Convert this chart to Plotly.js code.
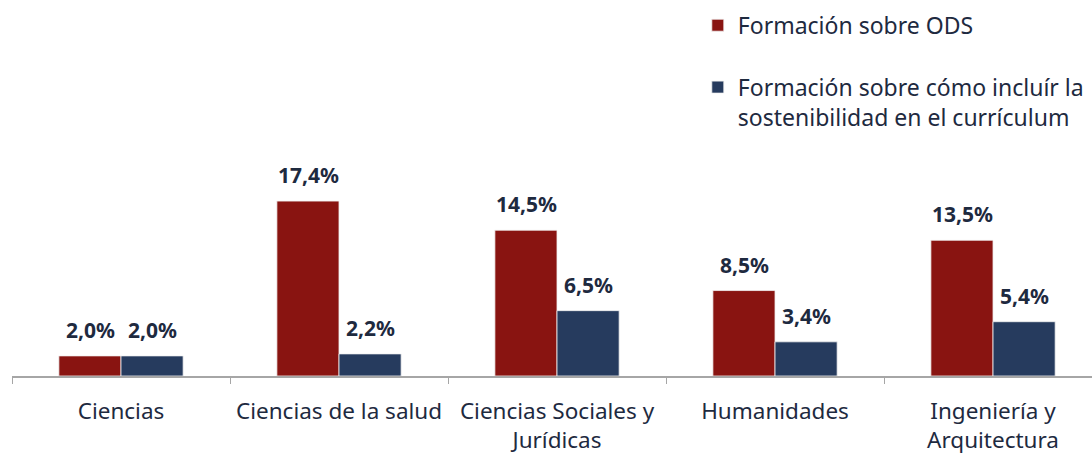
<!DOCTYPE html>
<html>
<head>
<meta charset="utf-8">
<script src="https://cdn.plot.ly/plotly-3.0.1.min.js"></script>
<style>html,body{margin:0;padding:0;background:#fff;}#chart{width:1092px;height:454px;}</style>
</head>
<body>
<div id="chart"></div>
<script>
const categories = ["Ciencias", "Ciencias de la salud", "Ciencias Sociales y<br>Jurídicas", "Humanidades", "Ingeniería y<br>Arquitectura"];
const seriesNames = ["Formación sobre ODS", "Formación sobre cómo incluír la<br>sostenibilidad en el currículum"];
const odsValues = [2.0, 17.4, 14.5, 8.5, 13.5];
const curriculumValues = [2.0, 2.2, 6.5, 3.4, 5.4];

const RED = "#891411";
const BLUE = "#263B5E";
const TEXT = "#1E2A3F";
const FONT = "'Noto Sans', sans-serif";

function fmt(v) { return v.toFixed(1).replace(".", ",") + "%"; }

const traces = [
  {type: "bar", name: seriesNames[0], x: categories, y: odsValues, legendgroup: "a",
   marker: {color: RED, line: {color: "#f2f2f2", width: 0.8}}, hoverinfo: "skip"},
  {type: "bar", name: seriesNames[1], x: categories, y: curriculumValues, legendgroup: "b",
   marker: {color: BLUE, line: {color: "#f2f2f2", width: 0.8}}, hoverinfo: "skip"}
];

const annotations = [];
[odsValues, curriculumValues].forEach((vals, s) => {
  vals.forEach((v, i) => {
    annotations.push({x: categories[i], y: v, xref: "x", yref: "y", text: fmt(v),
      showarrow: false, yanchor: "bottom", xshift: s === 0 ? -31 : 31, yshift: 10,
      font: {family: FONT, size: 21, color: TEXT, weight: "bold"}});
  });
});

const layout = {
  width: 1092, height: 454,
  margin: {l: 12, r: 0, t: 0, b: 78},
  paper_bgcolor: "#fff", plot_bgcolor: "#fff",
  barmode: "group", bargap: 0.43, bargroupgap: 0,
  showlegend: true,
  legend: {x: 0.635, xanchor: "left", y: 0.99, yanchor: "top", font: {family: FONT, size: 23, color: TEXT},
    traceorder: "grouped", tracegroupgap: 29, valign: "top", itemwidth: 30, bgcolor: "rgba(0,0,0,0)"},
  xaxis: {type: "category", range: [-0.5, 4.454], tickson: "boundaries", ticks: "outside", ticklen: 6,
    tickcolor: "#a6a6a6", showline: true, linecolor: "#a6a6a6", linewidth: 1.5, showgrid: false,
    tickfont: {family: FONT, size: 22.5, color: TEXT}, ticklabelstandoff: 14, fixedrange: true},
  yaxis: {range: [0, 37.4], visible: false, showgrid: false, zeroline: false, fixedrange: true},
  annotations: annotations
};

Plotly.newPlot("chart", traces, layout, {displayModeBar: false, staticPlot: true});
</script>
</body>
</html>
